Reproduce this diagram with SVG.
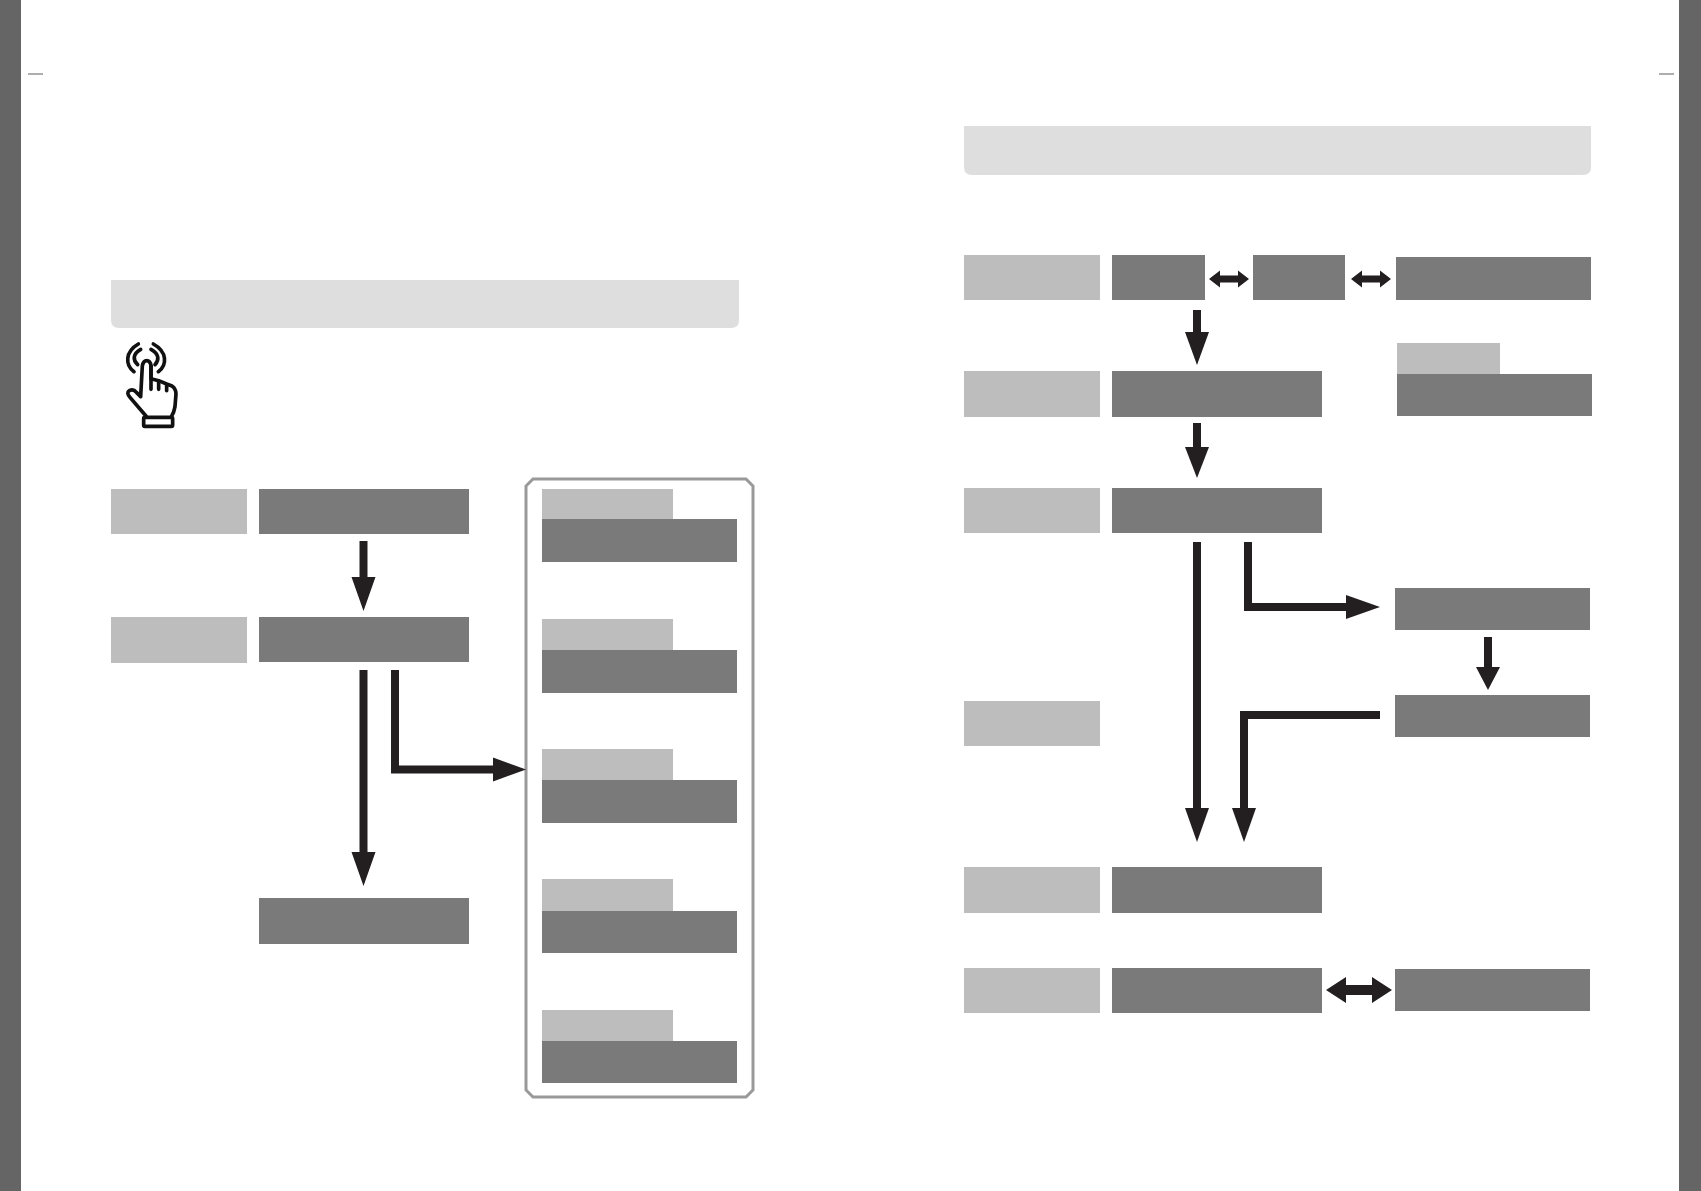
<svg xmlns="http://www.w3.org/2000/svg" width="1701" height="1191" viewBox="0 0 1701 1191">
<style>
.d{fill:#7b7a7a}.l{fill:#bdbdbd}.h{fill:#dedede}.b{fill:#666566}
.s{fill:none;stroke:#231f20;stroke-width:8}
.a{fill:#231f20}
.t{fill:none;stroke:#777;stroke-width:1.200}
.i{fill:none;stroke:#111;stroke-width:11;stroke-linecap:round;stroke-linejoin:round}
</style>
<rect width="1701" height="1191" fill="#fff"/>
<g id="page-edges">
<rect class="b" x="0" y="0" width="21" height="1191"/>
<rect class="b" x="1679" y="0" width="22" height="1191"/>
<line class="t" x1="28" y1="74" x2="43" y2="74"/>
<line class="t" x1="1659" y1="74" x2="1674" y2="74"/>
</g>
<g id="header-left"><path class="h" d="M111 280H739V320Q739 328 731 328H119Q111 328 111 320Z"/></g>
<g id="header-right"><path class="h" d="M964 126H1591V167Q1591 175 1583 175H972Q964 175 964 167Z"/></g>
<g id="touch-icon" transform="translate(90 260) scale(.3333)">
<path class="i" d="M168 468L120 412Q108 398 118 392Q130 386 140 398L152 410L157 318Q160 302 170 302Q181 302 183 318V356L206 362L230 372L246 378Q258 386 258 402L255 440Q252 458 245 468"/>
<path class="i" d="M183 318V388M206 364V388M230 374V392"/>
<rect class="i" x="161" y="472" width="87" height="27" rx="4"/>
<path class="i" d="M145 252C105 275 105 315 132 335M152 268C128 282 128 300 143 314M183 268C208 282 208 300 195 314M190 252C232 275 232 315 205 335"/>
</g>
<g id="l-row1"><rect class="l" x="111" y="489" width="136" height="45"/><rect class="d" x="259" y="489" width="210" height="45"/></g>
<g id="l-row2"><rect class="l" x="111" y="617" width="136" height="46"/><rect class="d" x="259" y="617" width="210" height="45"/></g>
<g id="l-row3"><rect class="d" x="259" y="898" width="210" height="46"/></g>
<g id="options-frame"><path d="M533 479H746L753 486V1090L746 1097H533L526 1090V486Z" fill="none" stroke="#999" stroke-width="3"/></g>
<g id="option1"><rect class="l" x="542" y="489" width="131" height="30"/><rect class="d" x="542" y="519" width="195" height="43"/></g>
<g id="option2"><rect class="l" x="542" y="619" width="131" height="31"/><rect class="d" x="542" y="650" width="195" height="43"/></g>
<g id="option3"><rect class="l" x="542" y="749" width="131" height="31"/><rect class="d" x="542" y="780" width="195" height="43"/></g>
<g id="option4"><rect class="l" x="542" y="879" width="131" height="32"/><rect class="d" x="542" y="911" width="195" height="42"/></g>
<g id="option5"><rect class="l" x="542" y="1010" width="131" height="31"/><rect class="d" x="542" y="1041" width="195" height="42"/></g>
<g id="r-row1"><rect class="l" x="964" y="255" width="136" height="45"/><rect class="d" x="1112" y="255" width="93" height="45"/><rect class="d" x="1253" y="255" width="92" height="45"/><rect class="d" x="1396" y="257" width="195" height="43"/></g>
<g id="r-row2"><rect class="l" x="964" y="371" width="136" height="46"/><rect class="d" x="1112" y="371" width="210" height="46"/></g>
<g id="r-note"><rect class="l" x="1397" y="343" width="103" height="31"/><rect class="d" x="1397" y="374" width="195" height="42"/></g>
<g id="r-row3"><rect class="l" x="964" y="488" width="136" height="45"/><rect class="d" x="1112" y="488" width="210" height="45"/></g>
<g id="r-side1"><rect class="d" x="1395" y="588" width="195" height="42"/></g>
<g id="r-side2"><rect class="d" x="1395" y="695" width="195" height="42"/></g>
<g id="r-row4"><rect class="l" x="964" y="701" width="136" height="45"/></g>
<g id="r-row5"><rect class="l" x="964" y="867" width="136" height="46"/><rect class="d" x="1112" y="867" width="210" height="46"/></g>
<g id="r-row6"><rect class="l" x="964" y="968" width="136" height="45"/><rect class="d" x="1112" y="968" width="210" height="45"/><rect class="d" x="1395" y="969" width="195" height="42"/></g>
<g id="connectors">
<path class="s" d="M363.500 541V580"/><polygon class="a" points="351.500,577 375.500,577 363.500,611"/>
<path class="s" d="M363.500 670V855"/><polygon class="a" points="351.500,852 375.500,852 363.500,886"/>
<path class="s" d="M395 670V769.500H496"/><polygon class="a" points="493,757.500 493,781.500 526,769.500"/>
<path class="s" d="M1197 310V335"/><polygon class="a" points="1185,332 1209,332 1197,365"/>
<path class="s" d="M1197 423V450"/><polygon class="a" points="1185,447 1209,447 1197,478"/>
<path class="s" d="M1197 542V811"/><polygon class="a" points="1185,808 1209,808 1197,842"/>
<path class="s" d="M1248 542V607H1349"/><polygon class="a" points="1346,595 1346,619 1380,607"/>
<path class="s" d="M1488 637V670"/><polygon class="a" points="1476,667 1500,667 1488,690"/>
<path class="s" d="M1380 715H1244V811"/><polygon class="a" points="1232,808 1256,808 1244,842"/>
<polygon class="a" points="1209,279 1220,270.500 1220,275.500 1238,275.500 1238,270.500 1249,279 1238,287.500 1238,282.500 1220,282.500 1220,287.500"/>
<polygon class="a" points="1351,279 1362,270.500 1362,275.500 1380,275.500 1380,270.500 1391,279 1380,287.500 1380,282.500 1362,282.500 1362,287.500"/>
<polygon class="a" points="1326,990 1346,977 1346,985 1372,985 1372,977 1392,990 1372,1003 1372,995 1346,995 1346,1003"/>
</g>
</svg>
